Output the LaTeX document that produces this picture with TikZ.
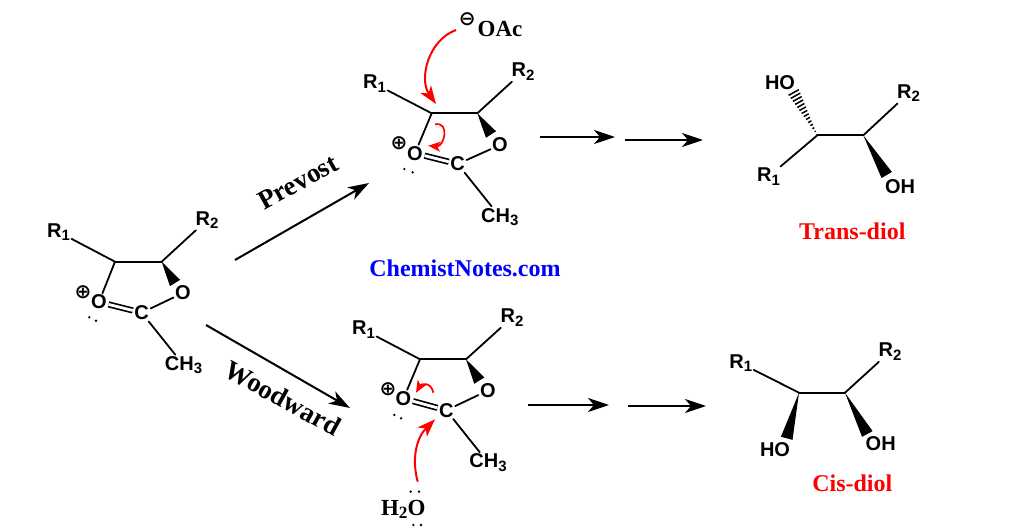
\documentclass[tikz,border=0pt]{standalone}
\usepackage{fontspec}
\setmainfont{Liberation Serif}
\setsansfont{Liberation Sans}
\newfontfamily\chargefont{DejaVu Sans}
\usetikzlibrary{arrows.meta,calc}
\newcommand{\Sub}[1]{\raisebox{-0.3ex}{\scalebox{0.75}{#1}}}

\begin{document}
\begin{tikzpicture}[x=1pt,y=-1pt]
	\tikzstyle{Atom}	= [font=\sffamily\bfseries\fontsize{20}{20}\selectfont, inner sep=1.5pt]
	\tikzstyle{Title}	= [font=\bfseries\fontsize{24}{24}\selectfont, inner sep=0pt]
	\tikzstyle{Name}	= [font=\bfseries\fontsize{27}{27}\selectfont, inner sep=0pt]
	\tikzstyle{Reagent}	= [font=\bfseries\fontsize{23}{23}\selectfont, inner sep=0pt]
	\tikzstyle{Charge}	= [font=\chargefont\bfseries\fontsize{20}{20}\selectfont, inner sep=0pt]
	\tikzstyle{Pair}	= [circle, fill=black, minimum size=2.6pt, inner sep=0pt]
	\tikzstyle{Bond}	= [line width=1.8pt, line cap=round]
	\tikzstyle{DoubleBond}	= [line width=1.7pt, double, double distance=2.8pt]
	\tikzstyle{Wedge}	= [to path={-- ($(\tikztotarget)!6pt!90:(\tikztostart)$) -- ($(\tikztotarget)!6pt!-90:(\tikztostart)$) -- cycle}]
	\tikzstyle{Reaction}	= [line width=2pt, -{Stealth[length=21pt,width=14pt,inset=6pt]}]
	\tikzstyle{Push}	= [red, line width=2pt, -{Stealth[length=18pt,width=13pt,inset=5pt]}]
	\tikzstyle{SmallPush}	= [red, line width=1.7pt, -{Stealth[length=12pt,width=10pt,inset=3pt]}]

	\useasboundingbox (0,0) rectangle (1023,532);

	% starting cation
	\coordinate (ca1) at (115,261.7);
	\coordinate (ca2) at (161.7,261.7);
	\coordinate (wa) at (175,283);
	\node (Ra1) at (58.5,232) [Atom] {R\Sub{1}};
	\node (Ra2) at (207,220) [Atom] {R\Sub{2}};
	\node (Oa1) at (99,302) [Atom] {O};
	\node (Oa2) at (183,293) [Atom] {O};
	\node (Ca) at (141.7,312.7) [Atom] {C};
	\node (Mea) at (183.5,365) [Atom] {CH\Sub{3}};
	\node (qa) at (83,292) [Charge] {⊕};
	\node (pa1) at (89.3,317.3) [Pair] {};
	\node (pa2) at (96,320.7) [Pair] {};

	\draw [Bond] (Ra1) to (ca1);
	\draw [Bond] (ca1) to (ca2);
	\draw [Bond] (ca2) to (Ra2);
	\draw [Bond] (ca1) to (Oa1);
	\fill (ca2) to [Wedge] (wa);
	\draw [DoubleBond] (Oa1) to (Ca);
	\draw [Bond] (Oa2) to (Ca);
	\draw [Bond] (Ca) to (Mea);

	% Prevost intermediate
	\coordinate (cb1) at (431.7,113.3);
	\coordinate (cb2) at (477.3,113.3);
	\coordinate (wb) at (491,134.5);
	\node (Rb1) at (374.5,83.6) [Atom] {R\Sub{1}};
	\node (Rb2) at (523,71.6) [Atom] {R\Sub{2}};
	\node (Ob1) at (415,153.3) [Atom] {O};
	\node (Ob2) at (500,145) [Atom] {O};
	\node (Cb) at (457.7,164) [Atom] {C};
	\node (Meb) at (499.8,216.7) [Atom] {CH\Sub{3}};
	\node (qb) at (399,143.3) [Charge] {⊕};
	\node (pb1) at (404.3,169) [Pair] {};
	\node (pb2) at (412.7,172.3) [Pair] {};
	\node (OAc) at (500,29.3) [Reagent] {OAc};
	\node (qOAc) at (467.3,19.3) [Charge] {⊖};

	\draw [Bond] (Rb1) to (cb1);
	\draw [Bond] (cb1) to (cb2);
	\draw [Bond] (cb2) to (Rb2);
	\draw [Bond] (cb1) to (Ob1);
	\fill (cb2) to [Wedge] (wb);
	\draw [DoubleBond] (Ob1) to (Cb);
	\draw [Bond] (Ob2) to (Cb);
	\draw [Bond] (Cb) to (Meb);

	\coordinate (sb1) at (456,30);
	\coordinate (eb1) at (436,104);
	\coordinate (sb2) at (435,124.3);
	\coordinate (eb2) at (428.3,145.7);
	\draw [Push] (sb1) to [out=200,in=125] (eb1);
	\draw [SmallPush] (sb2) to [out=10,in=-5,looseness=1.8] (eb2);

	% Woodward intermediate
	\coordinate (cc1) at (420,359.3);
	\coordinate (cc2) at (466,359.3);
	\coordinate (wc) at (479.3,380.6);
	\node (Rc1) at (363.5,329.6) [Atom] {R\Sub{1}};
	\node (Rc2) at (512,317.6) [Atom] {R\Sub{2}};
	\node (Oc1) at (403.5,398.6) [Atom] {O};
	\node (Oc2) at (487.8,390.6) [Atom] {O};
	\node (Cc) at (446.3,410.3) [Atom] {C};
	\node (Mec) at (488,462.6) [Atom] {CH\Sub{3}};
	\node (qc) at (388,389.6) [Charge] {⊕};
	\node (pc1) at (394.3,414.9) [Pair] {};
	\node (pc2) at (401,418.3) [Pair] {};
	\node (Water) at (403.3,509) [Reagent] {H\Sub{2}O};
	\node (pw1) at (410.7,491.7) [Pair] {};
	\node (pw2) at (419,491.7) [Pair] {};
	\node (pw3) at (413.3,525) [Pair] {};
	\node (pw4) at (421,525) [Pair] {};

	\draw [Bond] (Rc1) to (cc1);
	\draw [Bond] (cc1) to (cc2);
	\draw [Bond] (cc2) to (Rc2);
	\draw [Bond] (cc1) to (Oc1);
	\fill (cc2) to [Wedge] (wc);
	\draw [DoubleBond] (Oc1) to (Cc);
	\draw [Bond] (Oc2) to (Cc);
	\draw [Bond] (Cc) to (Mec);

	\coordinate (sc1) at (417.7,481.7);
	\coordinate (ec1) at (435,419.3);
	\coordinate (sc2) at (433.3,392.7);
	\coordinate (ec2) at (416,392.7);
	\draw [Push] (sc1) to [out=105,in=225] (ec1);
	\draw [SmallPush] (sc2) to [out=100,in=60,looseness=1.6] (ec2);

	% trans product
	\coordinate (cd1) at (817.3,135.3);
	\coordinate (cd2) at (863.3,135.3);
	\coordinate (wd) at (886.7,175);
	\coordinate (hd) at (793.3,91.7);
	\node (Rd1) at (768.5,176.7) [Atom] {R\Sub{1}};
	\node (Rd2) at (908.5,93.3) [Atom] {R\Sub{2}};
	\node (HOd) at (780,82.7) [Atom] {HO};
	\node (OHd) at (900,186.7) [Atom] {OH};
	\node (Trans) at (852.3,231.7) [Title, red] {Trans-diol};

	\draw [Bond] (Rd1) to (cd1);
	\draw [Bond] (cd1) to (cd2);
	\draw [Bond] (cd2) to (Rd2);
	\fill (cd2) to [Wedge] (wd);
	\begin{scope}
		\clip (cd1) to [Wedge] (hd);
		\draw [line width=14pt, dash pattern=on 1.5pt off 2.2pt] (cd1) to (hd);
	\end{scope}

	% cis product
	\coordinate (ce1) at (799,392.7);
	\coordinate (ce2) at (845,392.7);
	\coordinate (we1) at (786.7,438.3);
	\coordinate (we2) at (867.3,434);
	\node (Re1) at (740.7,363.3) [Atom] {R\Sub{1}};
	\node (Re2) at (890,351.7) [Atom] {R\Sub{2}};
	\node (HOe) at (775,449.3) [Atom] {HO};
	\node (OHe) at (880.7,444) [Atom] {OH};
	\node (Cis) at (852.3,483.3) [Title, red] {Cis-diol};

	\draw [Bond] (Re1) to (ce1);
	\draw [Bond] (ce1) to (ce2);
	\draw [Bond] (ce2) to (Re2);
	\fill (ce1) to [Wedge] (we1);
	\fill (ce2) to [Wedge] (we2);

	% reaction arrows
	\node (Prevost) at (298,182) [Name, rotate=29] {Prevost};
	\node (Woodward) at (283,398) [Name, rotate=-29] {Woodward};
	\node (Site) at (465,268) [Title, blue] {ChemistNotes.com};

	\coordinate (s1) at (235,260);
	\coordinate (e1) at (369,183);
	\coordinate (s2) at (206,325);
	\coordinate (e2) at (350,408);
	\coordinate (s3) at (540,137);
	\coordinate (e3) at (615,137);
	\coordinate (s4) at (625,140);
	\coordinate (e4) at (703,140);
	\coordinate (s5) at (528,405);
	\coordinate (e5) at (609,405);
	\coordinate (s6) at (628,406);
	\coordinate (e6) at (706,406);
	\draw [Reaction] (s1) to (e1);
	\draw [Reaction] (s2) to (e2);
	\draw [Reaction] (s3) to (e3);
	\draw [Reaction] (s4) to (e4);
	\draw [Reaction] (s5) to (e5);
	\draw [Reaction] (s6) to (e6);
\end{tikzpicture}
\end{document}
